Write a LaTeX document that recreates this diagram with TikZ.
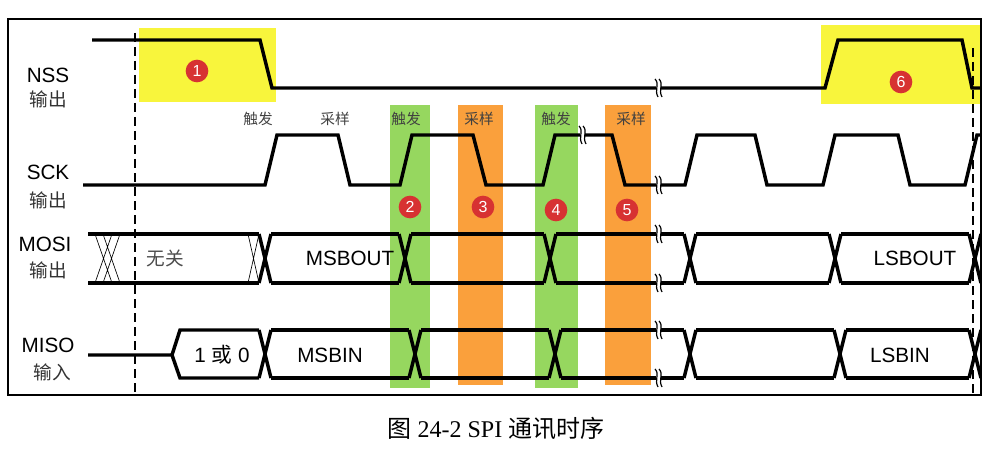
\documentclass[tikz,border=0pt]{standalone}
\usepackage{fontspec}
\setmainfont{Liberation Serif}
\newfontfamily\cjk{Noto Sans CJK SC}
\newfontfamily\sans{Liberation Sans}
\definecolor{gband}{RGB}{150,215,95}
\definecolor{oband}{RGB}{250,160,60}
\definecolor{ybox}{RGB}{248,245,60}
\definecolor{nred}{RGB}{215,50,50}
\begin{document}
\begin{tikzpicture}[x=0.75pt,y=-0.75pt,
  sig/.style={line width=2.6pt,line join=miter},
  lbl/.style={font=\sans\fontsize{15.5}{15.5}\selectfont,inner sep=0},
  clbl/.style={font=\cjk\fontsize{14}{14}\selectfont,inner sep=0,text=black!80},
  tlbl/.style={font=\cjk\fontsize{11}{11}\selectfont,inner sep=0,text=black!75},
  num/.style={circle,fill=nred,text=white,minimum size=17pt,inner sep=0,font=\sans\fontsize{12}{12}\selectfont},
  brk/.style={line width=0.9pt}]
\useasboundingbox (0,0) rectangle (995,449);
% backgrounds
\fill[ybox] (139,28) rectangle (276,102);
\fill[ybox] (821,25) rectangle (981,104);
\fill[gband] (390,105) rectangle (430,388);
\fill[gband] (535,105) rectangle (578,388);
\fill[oband] (458,105) rectangle (503,385);
\fill[oband] (605,105) rectangle (651,385);
\draw[line width=0.8pt] (8,19) rectangle (981,395);
\draw[line width=2pt,dash pattern=on 7pt off 3.5pt] (135,33) -- (135,395);
\draw[line width=1.5pt,dash pattern=on 7pt off 3.5pt] (973,48) -- (973,395);
\begin{scope}
\clip (8,19) rectangle (981,395);
% NSS
\draw[sig] (92,40) -- (260,40) -- (272,88) -- (825,88) -- (838,40) -- (962,40) -- (972,88) -- (985,88);
% SCK
\draw[sig] (83,185) -- (265,185) -- (277,135) -- (338,135) -- (350,185) -- (400,185) -- (412,135) -- (473,135) -- (486,185)
  -- (543,185) -- (555,135) -- (612,135) -- (625,185) -- (685,185) -- (697,135) -- (755,135) -- (767,185)
  -- (823,185) -- (835,135) -- (898,135) -- (910,185) -- (965,185) -- (977,135) -- (985,135);
% MOSI
\draw[sig] (88,234) -- (259,234) (88,283) -- (259,283);
\foreach \a/\b in {265/405,405/550,550/690,690/835,835/975,975/1100}
  \draw[sig] (\a+6,234) -- (\b-6,234) (\a+6,283) -- (\b-6,283);
\foreach \c in {265,405,550,690,835,975}
  \draw[sig] (\c-6,234) -- (\c+6,283) (\c-6,283) -- (\c+6,234);
\draw[line width=0.5pt] (95,234)--(112,283) (112,234)--(95,283) (103,234)--(120,283) (120,234)--(103,283)
  (248,234)--(259,283) (259,234)--(248,283);
% MISO
\draw[sig] (88,355) -- (172,355) -- (180,330) -- (259,330) (172,355) -- (180,378) -- (259,378);
\foreach \a/\b in {265/415,415/555,555/690,690/840,840/975,975/1100}
  \draw[sig] (\a+6,330) -- (\b-6,330) (\a+6,378) -- (\b-6,378);
\foreach \c in {265,415,555,690,840,975}
  \draw[sig] (\c-6,330) -- (\c+6,378) (\c-6,378) -- (\c+6,330);
\end{scope}
% break marks
\foreach \x/\y in {658/88,658/185,658/234,658/283,658/330,658/378,582/135}{
  \fill[white] (\x-2,\y-8) rectangle (\x+3,\y+8);
  \draw[brk] (\x-3,\y-9) .. controls (\x+2,\y-4) and (\x-4,\y+2) .. (\x+0,\y+9);
  \draw[brk] (\x+1,\y-9) .. controls (\x+6,\y-4) and (\x+0,\y+2) .. (\x+4,\y+9);
}
% labels
\node[lbl] (nss) at (48,75) {NSS};   \node[clbl] (nsso) at (48,99) {输出};
\node[lbl] (sck) at (48,172) {SCK};  \node[clbl] (scko) at (48,200) {输出};
\node[lbl] (mosi) at (45,244) {MOSI};\node[clbl] (mosio) at (48,270) {输出};
\node[lbl] (miso) at (48,345) {MISO};\node[clbl] (misoi) at (52,372) {输入};
\node[tlbl] (t1) at (258,119) {触发}; \node[tlbl] (s1) at (335,119) {采样};
\node[tlbl] (t2) at (406,119) {触发}; \node[tlbl] (s2) at (479,119) {采样};
\node[tlbl] (t3) at (556,119) {触发}; \node[tlbl] (s3) at (631,119) {采样};
\node[num] (n1) at (197,71) {1}; \node[num] (n2) at (410,207) {2};
\node[num] (n3) at (483,207) {3}; \node[num] (n4) at (556,210) {4};
\node[num] (n5) at (627,210) {5}; \node[num] (n6) at (901,82) {6};
\node[clbl,text=black!70] (wg) at (165,258) {无关};
\node[lbl] (mo) at (350,258) {MSBOUT};
\node[lbl] (lo) at (915,258) {LSBOUT};
\node[lbl] (v) at (222,355) {1 {\cjk 或} 0};
\node[lbl] (mi) at (330,355) {MSBIN};
\node[lbl] (li) at (900,355) {LSBIN};
\node[font=\fontsize{18}{18}\selectfont,inner sep=0] (cap) at (496,428) {{\cjk 图} 24-2 SPI {\cjk 通讯时序}};
\end{tikzpicture}
\end{document}
